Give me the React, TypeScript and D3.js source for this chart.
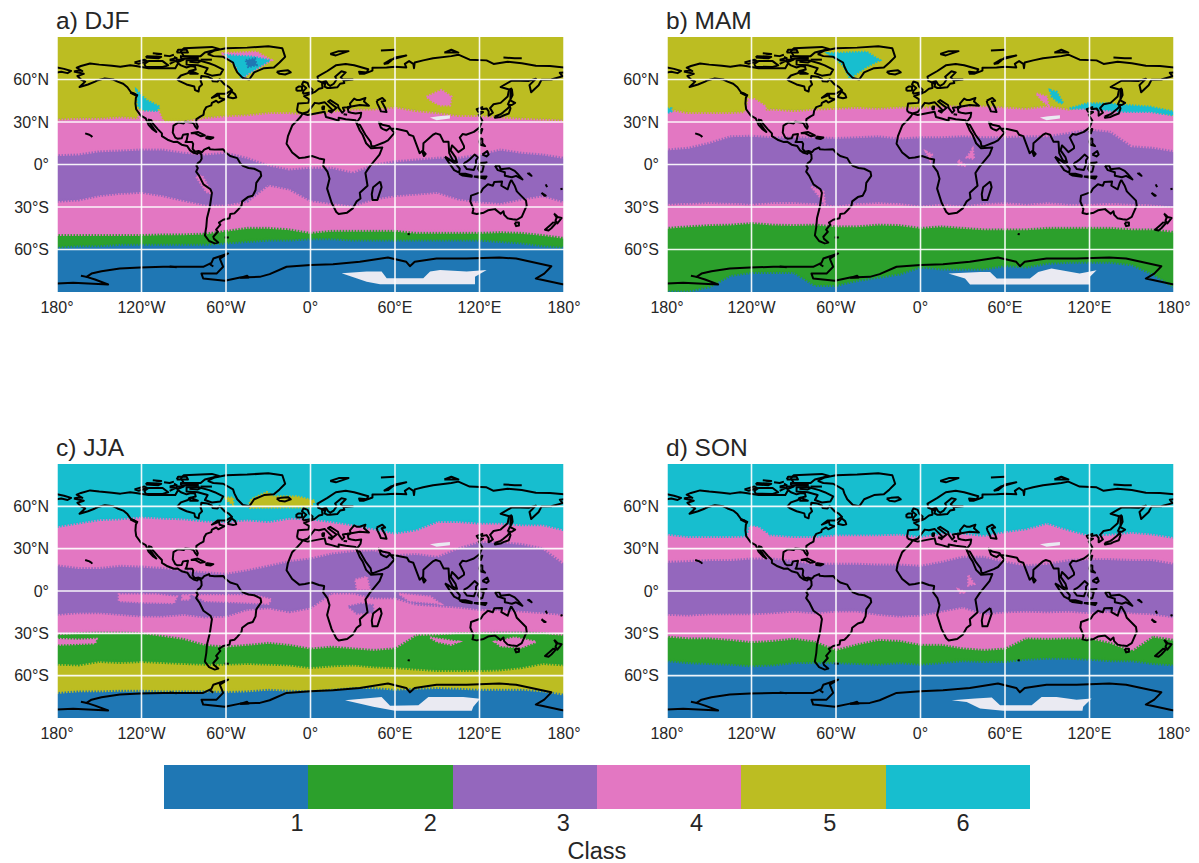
import React from 'react';
import * as d3 from 'd3';

type Pt = number[];

const classColors = ['#1f77b4', '#2ca02c', '#9467bd', '#e377c2', '#bcbd22', '#17becf'];
const classes = [1, 2, 3, 4, 5, 6];
const lonTicks = [-180, -120, -60, 0, 60, 120, 180];
const latTicks = [60, 30, 0, -30, -60];

const lons = [-180, -165, -150, -135, -120, -105, -90, -75, -60, -45, -30, -15, 0, 15, 30, 45, 60, 75, 90, 105, 120, 135, 150, 165, 180];

// class stacks, south to north, and latitude of each edge between them
const djfClasses = [1, 2, 4, 3, 4, 5];
const djfEdges = [
  [-58, -57, -57, -56, -56, -56, -56, -56, -55, -54, -53, -53, -52, -52, -53, -53, -53, -53, -53, -53, -53, -54, -55, -57, -58],
  [-49, -49, -49, -49, -49, -48.5, -48.5, -48, -46, -44, -44, -45, -47.5, -46, -46, -46, -46, -47.5, -47.5, -47.5, -47.5, -47, -47.5, -49, -51],
  [-25.6, -24.7, -21.6, -20, -19.3, -21.6, -25, -28, -28, -25.6, -14, -17, -25, -27, -28.7, -24, -21.6, -20.5, -19.3, -24, -26, -27, -24, -21.6, -26],
  [7.3, 7.8, 10, 10.6, 11.3, 11.3, 9, 7.8, 9, 5.4, 0.2, -2.8, -1.6, -1.6, -5, 0.7, 3, 4.2, 5.4, 5.4, 7.8, 11.3, 9, 7.8, 5.4],
  [32.5, 33, 33, 34, 33, 31, 31, 33.6, 34.8, 35.5, 37, 37, 36, 38, 39.5, 39.5, 41, 38.4, 37, 35, 35, 34, 33, 32.5, 31.8],
];
const mamClasses = [1, 2, 4, 3, 4, 5];
const mamEdges = [
  [-89, -89, -86, -78, -75.8, -75.8, -75.8, -85, -85, -81.6, -79.3, -77, -72, -73.4, -73.4, -73.4, -71, -72, -69.4, -68.7, -68.7, -68.7, -70.4, -77, -86],
  [-44, -42.8, -42, -41.6, -40.5, -41.6, -42, -41.6, -42.8, -42.8, -41.6, -42, -44, -42.8, -44, -45, -45, -45, -44, -44, -44, -44, -45, -45, -46.8],
  [-27.5, -27, -26.4, -26.8, -27.5, -26.4, -26.4, -27, -28.7, -27, -26.4, -27, -28.7, -27.5, -28.7, -27, -26.4, -27.5, -26.4, -27.5, -27.5, -27, -27.5, -28, -29.4],
  [11.3, 12.5, 16, 20.7, 21, 20, 20, 20, 19.5, 20, 20.7, 19, 20, 20, 20.7, 20, 20, 20.7, 20.7, 23, 25.4, 23.8, 13.6, 12.5, 10],
  [39.5, 37, 37, 37, 38, 39.5, 38.4, 39.5, 40, 40.7, 40, 41, 40.7, 41.9, 41.9, 41.9, 41, 40, 41.9, 39.5, 41.9, 41.9, 39.5, 38.4, 35.5],
];
const jjaClasses = [1, 5, 2, 4, 3, 4, 6];
const jjaEdges = [
  [-71.5, -70.4, -70.4, -69.9, -69.9, -70.4, -70.4, -70.4, -70.8, -70.4, -69.2, -69.9, -70.4, -69.2, -68, -68, -69.2, -68.5, -68, -68.5, -69.2, -69.2, -69.2, -70.4, -72.7],
  [-51.5, -52, -49.6, -50.3, -49.6, -50.3, -51, -51.5, -51.5, -51, -51.5, -52, -53.9, -52.7, -52, -53.4, -53.9, -55, -56, -56, -56, -55.5, -53.9, -51, -52],
  [-30, -29, -28.7, -28.7, -29, -31, -33.2, -37.4, -38.6, -37.4, -36, -37.4, -40, -38.6, -39.8, -41, -39.8, -30.4, -30, -29, -29, -28.7, -28.7, -29, -30.4],
  [-16.2, -15, -15, -16.2, -17.4, -17.4, -16.2, -18, -17.4, -12.7, -11.5, -14.4, -11.5, -1, -1, -4.5, -4.5, -9, -10, -11, -12.7, -12.7, -13.9, -15, -16.2],
  [19, 17, 17, 18.6, 18, 17, 15.5, 14, 13, 15.5, 18.6, 21.9, 23.8, 27.3, 29, 29.6, 26, 27, 25, 31, 35.5, 35.5, 34, 31, 20],
  [46, 48.5, 51, 51.5, 53, 52, 51.5, 50, 49.6, 50.8, 49.6, 52, 51.5, 49.6, 47.3, 44.5, 41.4, 43.8, 49.6, 49.6, 48.5, 48.5, 47.3, 47.3, 43.8],
];
const sonClasses = [1, 2, 4, 3, 4, 6];
const sonEdges = [
  [-49, -50.4, -51, -51.5, -52.7, -52, -50.4, -50.4, -50.4, -51, -51.5, -50.4, -51.5, -50.4, -49, -49.6, -49.6, -48, -47.3, -47.3, -48, -49, -49, -51, -52],
  [-31.5, -32.7, -32.7, -33.9, -35.5, -34.6, -33, -35, -41, -37, -33.9, -34.6, -37.4, -37.4, -39.8, -41, -40, -32.7, -33.2, -32.7, -32.7, -36, -41.6, -31.5, -33.9],
  [-16.2, -16.7, -15.8, -15.8, -15.8, -15, -13.9, -15, -13.9, -13.9, -16.2, -17.4, -16.7, -13.9, -11, -15.8, -14.4, -13.9, -14.4, -13.9, -15, -13.9, -15, -15.8, -18],
  [21.4, 21.9, 22.6, 22.6, 23.8, 23.8, 21.9, 20, 20, 20, 19.5, 19.5, 18.6, 21.4, 25, 25, 21.4, 19, 20, 22.6, 23.3, 23.3, 22.6, 22.6, 20],
  [40.7, 39, 39, 39, 39.5, 40.2, 39, 39, 40.2, 40.2, 40.2, 40.7, 39, 41.4, 41.4, 39.8, 42.6, 44.5, 48.5, 43.8, 39.8, 40.7, 42, 40.7, 38.4],
];

// isolated class patches: [class, outline]
const djfPatches: [number, Pt[]][] = [
  [4, [[-63.2, 78.4], [-38.3, 79.5], [-27.7, 73.6], [-36, 68.9], [-44.3, 64.2], [-47.8, 60.7], [-52.5, 68.9], [-59.6, 76]]],
  [6, [[-59.6, 77.2], [-40.7, 76], [-28.9, 73.6], [-38.3, 67.8], [-44.3, 64.2], [-49, 60.7], [-52.5, 68.9]]],
  [1, [[-45.9, 73.6], [-39.5, 74.8], [-38.3, 70.1], [-44.3, 68.9]]],
  [4, [[-122, 31], [-122, 38], [-108, 38], [-105, 31]]],
  [6, [[-123.6, 52.5], [-116.5, 45.4], [-107, 40.7], [-109.4, 37.9], [-118.8, 38.4], [-122.4, 40.7]]],
  [4, [[82.4, 47.8], [93, 52.5], [100, 47.8], [99, 41.9], [92, 41.9], [86, 44.9]]],
  [4, [[-81, -8.7], [-74, -19.3], [-70, -20.5], [-77, -8]]],
];
const mamPatches: [number, Pt[]][] = [
  [4, [[-124, 37], [-122, 46], [-118, 46], [-110, 41], [-110, 37]]],
  [6, [[-65.6, 78.4], [-38.3, 79.5], [-28.9, 73.6], [-38.3, 69], [-45.4, 64.2], [-50, 60.7], [-54.9, 70], [-62, 76]]],
  [6, [[106, 39.5], [118, 43], [132, 43], [146, 41.9], [163, 40.7], [180, 37.2], [180, 34.8], [163, 37.2], [146, 37.2], [132, 38.4], [118, 39.5]]],
  [6, [[92, 52.5], [96.6, 51.3], [101.3, 43], [98, 44], [93.3, 47.8]]],
  [4, [[82.4, 50], [89.5, 47.8], [90.7, 41.9], [86, 45.4]]],
  [6, [[-180, 39.5], [-177, 39.5], [-177, 37.5], [-180, 36.5]]],
  [4, [[33, 5], [37, 11], [38, 4]]],
  [4, [[27, 3], [32, -1], [27, 0]]],
  [4, [[4, 9], [8, 7], [7, 3]]],
  [4, [[-77.4, -15.8], [-69, -19.3], [-67.7, -28.7], [-71.5, -22.8]]],
];
const jjaPatches: [number, Pt[]][] = [
  [5, [[-44, 60], [-42, 65], [-31, 70], [-26, 67], [-10, 67], [3, 64], [0, 59.5], [-43, 59]]],
  [5, [[-61, 66], [-55, 66], [-55, 61]]],
  [4, [[-180, -34], [-165, -34.5], [-152, -34], [-153, -37], [-180, -38]]],
  [4, [[131, -36], [145, -33], [160, -36], [150, -40], [135, -39]]],
  [4, [[85, -33], [105, -36], [100, -38], [90, -36]]],
  [4, [[-136, -2.5], [-110, -2.5], [-95, -4], [-97, -8.5], [-120, -8], [-136, -7]]],
  [4, [[-91, -3], [-86, -3], [-86, -6], [-91, -6]]],
  [4, [[-82, -3], [-40, -3], [-28, -6], [-30, -9], [-50, -8], [-75, -7]]],
  [3, [[27, -11], [36, -9], [44, -10], [45, -15], [33, -16]]],
  [4, [[63, -2], [85, -4], [92, -9], [70, -7]]],
  [4, [[32, 8], [40, 10], [42, 1], [33, 1]]],
];
const sonPatches: [number, Pt[]][] = [
  [4, [[-123, 38], [-121, 46], [-115, 45], [-108, 40], [-108, 38]]],
  [4, [[34, 11], [38, 5], [34, 4]]],
  [4, [[27, 1], [32, -1], [28, -1]]],
];

// missing data (no class) over the Antarctic plateau and Tibet
const tibet = [[84.8, 33.2], [90.7, 34.1], [99, 34.8], [99, 32.5], [89.5, 31.3]];
const djfPlateau = [[22.1, -76.8], [39.9, -75.6], [50.5, -75.6], [54.1, -80.3], [80.1, -80.3], [84.9, -75.6], [92, -74.5], [110.9, -75.6], [125.1, -74.5], [116.8, -79.2], [116.8, -84.5], [49.4, -84.5], [39.9, -82.7]];
const mamPlateau = [[19.8, -76.9], [42.3, -75.8], [49.4, -75.8], [54.2, -80.5], [77.7, -80.5], [83.6, -75.8], [93, -73.4], [113, -77], [125, -74.6], [120.3, -79.3], [120.3, -84.7], [35.2, -84.7], [31.6, -80.5]];
const jjaPlateau = [[24.5, -77.4], [50.5, -75.1], [56.5, -81.4], [76.6, -80.9], [83.7, -75.1], [108.5, -75.1], [120.4, -76.3], [115.6, -82.1], [114.5, -84.9], [60, -84.9], [44.6, -82.1]];
const sonPlateau = [[22.2, -77.4], [38.8, -76.2], [50.6, -75.5], [56.5, -80.9], [78.9, -80.9], [86, -75.1], [96.6, -75.1], [110.8, -77], [121.5, -76.2], [115.5, -82.1], [115, -84.9], [58.8, -84.9], [42.3, -83.3], [32.8, -78.6]];

// coastlines
const northAmerica = [[-168, 65.6], [-164, 66.5], [-162, 66], [-166, 68.3], [-163, 69.5], [-156.5, 71.3], [-150, 70.5], [-141, 69.7], [-135, 69], [-128, 70], [-124, 69.5], [-115, 68], [-108, 68], [-101, 68], [-96, 68], [-94, 71.5], [-92, 70], [-88, 68.5], [-85, 69.5], [-82, 69], [-81.5, 67], [-86, 66], [-87, 64.5], [-92, 62.8], [-94.5, 60], [-93, 58.8], [-88, 56.5], [-82.5, 55], [-82, 52.5], [-79.5, 51.5], [-79, 54.5], [-77, 56.5], [-78, 59], [-77.5, 62.5], [-73, 62], [-70, 60.5], [-69.5, 58.8], [-66, 58.5], [-64.5, 60.3], [-61, 56.5], [-58, 54.8], [-55.7, 52.5], [-60, 50], [-66, 50], [-70, 47], [-65, 49], [-64.5, 47], [-61, 46], [-65.5, 43.7], [-67, 45], [-70, 43.5], [-70.5, 41.7], [-74, 40.5], [-75.5, 38], [-76, 35], [-78, 34], [-81, 32], [-81.2, 29.5], [-80, 26.8], [-80.5, 25.2], [-82, 27], [-83, 29], [-85, 29.7], [-89, 30.2], [-90, 29], [-94, 29.6], [-97.3, 27.5], [-97.8, 22.5], [-96, 19], [-94.5, 18.2], [-91.5, 18.5], [-90.5, 21], [-87, 21.5], [-88, 17], [-88.7, 15.8], [-84, 15.8], [-83.3, 14.5], [-83.7, 11], [-82, 9], [-79.5, 9.5], [-77, 8.7], [-75.5, 10.5], [-72, 12], [-71.5, 10.8], [-68, 10.5], [-62, 10.7], [-60, 8.3], [-57, 6], [-52, 4.5], [-50, 1], [-48, -1], [-44, -2.5], [-40, -3], [-35.5, -5.2], [-35, -8], [-38.5, -13], [-39, -18], [-41, -22], [-44.5, -23], [-48.5, -26], [-49, -29], [-52, -32.5], [-54, -34.5], [-57, -35], [-57.5, -38], [-62, -39], [-65, -41], [-64, -42.5], [-67, -46], [-65.8, -47.5], [-69, -51], [-68.5, -52.5], [-65.5, -55], [-68, -55.7], [-72, -54], [-75, -50], [-74, -44], [-73.5, -38], [-71.5, -30], [-70, -20], [-71, -17.5], [-76, -14], [-79, -8], [-81.2, -5], [-80, -2.5], [-81, -1], [-80, 1], [-78.5, 2], [-77.3, 4], [-77.5, 7], [-79, 8.8], [-80.5, 7.5], [-83, 8.2], [-85.5, 10], [-87.5, 13], [-91.5, 14], [-94.5, 16], [-97, 15.8], [-101.5, 17.5], [-105.5, 20], [-105.5, 22], [-108.5, 25], [-112, 29], [-113, 31.2], [-114.8, 31.7], [-114.5, 30], [-111, 25], [-109.5, 23], [-112, 24.7], [-115, 28], [-117, 32.5], [-120.5, 34.5], [-123.8, 39], [-124.3, 43], [-124, 47], [-123, 49], [-127.5, 51], [-130, 54.5], [-133, 57], [-137, 58.5], [-140, 60], [-146, 60.8], [-151, 59.5], [-153, 58.5], [-158, 56.5], [-164, 54.7], [-160, 58.5], [-163, 60], [-165.5, 62.5], [-161, 64], [-168, 65.6]];
const eurasia = [[-9, 37], [-9.5, 38.7], [-8.8, 43], [-1.5, 43.5], [-1, 46], [-4.5, 48.3], [1.5, 50.5], [3.5, 51.5], [6, 53.5], [8.5, 54], [8.2, 57], [10.5, 57.5], [10, 55], [12, 54], [14, 54], [19, 54.5], [21, 57], [24, 57.5], [23.5, 59.3], [30, 60], [23, 60], [21.5, 61.5], [25, 65], [22, 65.8], [17.5, 62], [18.5, 60], [16.5, 57], [14, 55.5], [12.5, 56.5], [11, 59], [8, 58], [5.5, 59], [5, 62], [12, 66], [18, 70], [25, 71], [31, 70], [41, 67.2], [40, 65], [34.5, 65.5], [35, 64], [38, 64], [44, 66.3], [44, 68.3], [54, 68.5], [60, 69], [68, 68.5], [67, 71], [70, 73], [73, 71], [73.5, 68], [74, 72], [80, 73.5], [87, 75], [100, 76.5], [105, 77.5], [113, 74], [125, 73.5], [130, 71], [140, 72.5], [150, 71.5], [160, 69.7], [170, 69.5], [180, 68.5]];
const eurasiaEast = [[180, 65], [177, 64.7], [179, 62.3], [171, 60], [164, 59.8], [162, 56], [156.7, 51], [155.5, 56], [160, 60.5], [155, 59], [143, 59.3], [135, 54.7], [141, 53], [140, 48], [135, 43.5], [130, 42.5], [127.5, 39.8], [129.5, 36.5], [126.5, 34.5], [126.5, 37.5], [125, 39.6], [121.5, 39], [122, 40.5], [118, 39], [119, 37.3], [122.5, 37], [119.5, 35], [122, 31], [120, 26], [116, 23], [110.5, 21], [108, 21.5], [106, 19], [109, 13], [109, 11.5], [105, 8.7], [103, 11], [100.5, 13.5], [99.5, 10], [103, 5], [104, 1.5], [101, 3], [98.5, 8], [98, 16], [94.5, 16], [92, 21], [89, 22], [87, 21], [80.2, 15], [80, 10], [77.5, 8], [73, 20], [70, 21], [68.5, 23.5], [61.5, 25], [57, 25.5], [56, 27], [51, 28], [48.5, 30], [50, 26], [51.5, 25], [54, 24], [56.5, 26], [58.5, 23.5], [59.8, 22.5], [55, 17], [52, 15.5], [45, 12.8], [43.3, 12.8], [42.7, 16], [39, 21], [35, 28], [33.5, 28], [32.5, 30], [34, 31.3], [35.5, 33.5], [36, 36.5], [32, 36], [29, 36.5], [27, 37], [26.5, 39.5], [29, 41], [35, 42], [41.5, 41.5], [38, 44.5], [39, 47], [35, 45.5], [33, 45.5], [31, 46.5], [28, 43], [28.5, 41], [26, 40.5], [23, 40], [24, 38], [22.5, 36.5], [20, 40], [19.5, 42], [14, 45.5], [12.5, 44.5], [18.5, 40], [16, 38], [10, 44], [6, 43], [3, 43.5], [0, 39.5], [-2, 37], [-5.5, 36], [-9, 37]];
const chukotka = [[-180, 68.5], [-175, 67.5], [-170, 66], [-172.5, 64.5], [-177, 65.5], [-180, 65]];
const africa = [[-5.5, 36], [-2, 35], [10, 37.3], [11, 33.5], [15, 32.5], [20, 31], [20, 33], [25, 32], [32, 31.2], [32.5, 29.8], [35, 24], [37, 21], [39.5, 15], [43, 11.5], [51, 12], [49, 7], [42, -1.5], [39, -6], [40.5, -15], [35, -20], [35.5, -24], [32.8, -26], [30, -31], [26, -34], [20, -35], [18.3, -33.5], [15, -27], [11.8, -17], [13.5, -10], [12, -5], [9, -1], [9.7, 3.5], [6, 4.3], [1, 6], [-4, 5], [-8, 4.5], [-13, 8.5], [-17, 14.7], [-16, 20], [-13, 27.5], [-9.5, 31], [-7, 33.7], [-5.5, 36]];
const greenland = [[-73, 78], [-68, 80.5], [-60, 82], [-45, 82.5], [-30, 83.5], [-20, 82], [-18, 76], [-22, 72], [-26, 68.5], [-33, 68], [-40, 65], [-43.5, 60], [-48, 61], [-52, 65], [-54, 69], [-55, 72], [-62, 76], [-69, 76.5], [-73, 78]];
const australia = [[142.5, -10.8], [145, -15], [146.5, -19], [150, -22.5], [153, -25.5], [153.5, -29], [150, -37], [146.5, -39], [143.5, -38.7], [140, -38], [137.5, -35.5], [137, -33], [135, -34.8], [131, -31.5], [126, -32.3], [123, -34], [118, -35], [115, -34.3], [115.7, -31.5], [113.5, -26], [114, -22], [121, -19.5], [122.5, -17], [126, -14], [129.5, -15], [130.5, -12.3], [136, -12], [135.5, -15], [140, -17.5], [141.5, -13], [142.5, -10.8]];
const antarctica = [[-180, -84], [-168.5, -83.5], [-143.7, -84.7], [-153, -81.2], [-159, -79.3], [-155.5, -77], [-148.4, -75.3], [-135.4, -73.4], [-121, -72.7], [-104.6, -72.2], [-76.2, -72.2], [-70.3, -69.4], [-69, -66.4], [-58.5, -62.8], [-64.4, -66.4], [-62, -72.2], [-66.7, -77], [-77.4, -77], [-76.2, -80.5], [-60.8, -82], [-50, -79.8], [-36, -79.3], [-29, -77.4], [-17, -72.2], [0, -71], [16, -70.4], [35, -68.7], [55, -65.6], [68, -68.7], [70.6, -71.8], [74, -68.7], [89.5, -66.4], [110.8, -66.4], [134, -65.6], [146, -66.4], [171, -71.8], [166, -77], [160, -80.5], [179, -84.5], [180, -84.5]];
const islands = [
  [[49.5, -12], [50.5, -16], [47.5, -25], [44, -25], [43.5, -21], [44.5, -16], [49.5, -12]],
  [[145, -41], [148, -41], [148, -43], [146, -43.5], [145, -41]],
  [[173, -34.5], [175.5, -37], [178.3, -37.7], [177, -39.5], [175.3, -41.6], [174, -39.5], [174.8, -37.5], [173, -34.5]],
  [[172.7, -40.6], [174.2, -41.5], [171, -45], [169, -46.6], [166.5, -46], [170, -43], [172.7, -40.6]],
  [[131, -0.8], [134, -0.8], [135, -3.3], [141, -2.6], [145, -4.5], [147, -6.5], [150.5, -10.5], [146, -8], [143, -9], [138, -8], [138, -5.5], [133, -4], [131, -0.8]],
  [[109, 1], [111, 2], [113, 3.5], [116.5, 7], [119, 5], [117.5, 3], [117.5, 0], [116, -3.8], [111, -3.2], [109, -0.5], [109, 1]],
  [[95.5, 5.5], [98, 4], [103.5, 0], [106, -3], [105.5, -5.8], [102, -4], [98.5, 1], [95.5, 5.5]],
  [[105.5, -6.5], [110, -6.5], [114.5, -7.7], [114.5, -8.7], [108, -7.8], [105.5, -6.5]],
  [[120, 1], [125, 1.5], [121, 0], [123, -1], [122, -5], [120.5, -5.5], [119, -3], [120, 1]],
  [[116, -8.5], [125, -8.5], [124, -10], [116, -8.5]],
  [[120.5, 18.5], [122, 18], [122, 15], [124, 13], [120.5, 14], [120, 16], [120.5, 18.5]],
  [[122, 7], [125.5, 9.5], [126.5, 7], [125, 5.7], [122, 7]],
  [[121, 25], [122, 25], [121, 22], [120, 23], [121, 25]],
  [[130.8, 34], [135, 35.5], [137, 37], [140, 39.5], [141.5, 41.3], [142, 39.5], [140.8, 36], [137, 34.6], [135, 33.6], [131, 33], [130.8, 34]],
  [[140, 42], [141.5, 45.4], [145.3, 43.5], [143, 42], [140, 42]],
  [[142, 54], [143, 53], [143.5, 49], [142, 46], [142, 50], [142, 54]],
  [[80, 9.5], [81.8, 7.5], [80.5, 6], [79.8, 8], [80, 9.5]],
  [[155, -6], [157, -8], [154, -6]],
  [[164, -20], [167, -22], [166, -22], [164, -20]],
  [[167, -14], [168, -16]],
  [[177.5, -17.5], [179, -17]],
  [[-160, 22], [-157, 21], [-155.5, 20], [-155, 19.3]],
  [[-85, 22], [-80, 23], [-75, 20.5], [-78, 20], [-82, 22], [-85, 22]],
  [[-74, 19.8], [-69, 19], [-71, 18], [-74, 18.5], [-74, 19.8]],
  [[-61, -51.5], [-58, -51.5]],
  [[69, -49], [70.5, -49.3]],
  [[-24, 65.5], [-21, 66], [-16, 66.5], [-14, 65], [-18, 63.5], [-22, 64], [-24, 65.5]],
  [[-5.5, 50], [1, 51], [1.5, 52.8], [-1, 55], [-2, 57.5], [-5, 58.6], [-6, 56.5], [-3, 54], [-5, 52], [-5.5, 50]],
  [[-10, 52], [-6, 52.2], [-6, 55], [-8.5, 55], [-10, 54], [-10, 52]],
  [[12.5, 38], [15.5, 38], [15, 36.7], [12.5, 38]],
  [[8.3, 41], [9.7, 41], [9.5, 39], [8.5, 39], [8.3, 41]],
  [[23.5, 35.5], [26, 35.2]],
  [[14, 78], [20, 80], [27, 80], [18, 77], [14, 78]],
  [[52, 71], [57, 74], [68, 77], [60, 75.5], [55, 71.5], [52, 71]],
  [[95, 79], [105, 79], [100, 81], [95, 79]],
  [[137, 75.5], [145, 75], [150, 75]],
  [[50, 80.5], [60, 81]],
  [[47, 45], [51, 47], [53, 45], [50.5, 44.5], [53, 40], [54, 37], [50, 37.5], [49, 40], [47.5, 43], [47, 45]],
  [[-80, 73.7], [-72, 71.5], [-68, 70], [-62, 67], [-64, 63.5], [-70, 62.7], [-75, 64.5], [-73, 68], [-80, 70], [-88, 70.5], [-88, 73.5], [-80, 73.7]],
  [[-90, 76.5], [-78, 76.5], [-75, 79], [-65, 81.5], [-70, 83], [-90, 82], [-92, 80], [-90, 76.5]],
  [[-117, 69], [-105, 68.8], [-101, 70], [-105, 73], [-115, 73], [-118, 71], [-117, 69]],
  [[-125, 72], [-118, 74], [-116, 73], [-122, 71], [-125, 72]],
  [[-117, 75.5], [-108, 75], [-106, 76], [-116, 76.5], [-117, 75.5]],
  [[-92, 74.7], [-80, 74.7], [-80, 75.5], [-92, 76.5], [-92, 74.7]],
  [[-95, 72], [-90, 74], [-95, 74], [-95, 72]],
  [[-95, 79], [-87, 79], [-88, 81], [-94, 81], [-95, 79]],
  [[-86, 64], [-80, 64], [-85, 66], [-86, 64]],
  [[-59, 47.7], [-55, 46.8], [-52.7, 47.3], [-53.5, 49.5], [-56, 51.5], [-59, 47.7]],
  [[-128, 50.7], [-125, 50], [-123.5, 48.5], [-128, 50.7]],
  [[-50, -80], [-45, -78.5], [-44, -79.8], [-50, -80]],
  [[-163, -78.5], [-158, -79.5]],
  [[-72, -70], [-69, -72]],
  [[-100, -72], [-95, -72.5]],
  [[-104, 77], [-100, 76.5], [-97, 77.5]],
  [[-100, 74], [-95, 75], [-97, 76]],
  [[-110, 77.8], [-106, 78], [-112, 78.5]],
  [[-86, 72.5], [-80, 72], [-78, 73]],
  [[-100, 71], [-96, 73], [-100, 73.5]],
  [[-78, 74], [-70, 74]],
];
const coasts = [northAmerica, eurasia, eurasiaEast, chukotka, africa, greenland, australia, antarctica, ...islands];

const panels = [
  { id: 'a', title: 'a) DJF', left: 57, top: 37, bottom: 292, stack: djfClasses, edges: djfEdges, patches: djfPatches, plateau: djfPlateau },
  { id: 'b', title: 'b) MAM', left: 667, top: 37, bottom: 292, stack: mamClasses, edges: mamEdges, patches: mamPatches, plateau: mamPlateau },
  { id: 'c', title: 'c) JJA', left: 57, top: 464, bottom: 718, stack: jjaClasses, edges: jjaEdges, patches: jjaPatches, plateau: jjaPlateau },
  { id: 'd', title: 'd) SON', left: 667, top: 464, bottom: 718, stack: sonClasses, edges: sonEdges, patches: sonPatches, plateau: sonPlateau },
];

const ink = '#262626';
const font = '"Liberation Sans", Arial, sans-serif';
const panelWidth = 507;

const lonLabel = (d: number) => (Math.abs(d) === 180 || d === 0 ? `${Math.abs(d)}°` : `${Math.abs(d)}°${d < 0 ? 'W' : 'E'}`);
const latLabel = (d: number) => (d === 0 ? '0°' : `${Math.abs(d)}°${d < 0 ? 'S' : 'N'}`);

const Panel = ({ p }: { p: (typeof panels)[number] }) => {
  const x = d3.scaleLinear().domain([-180, 180]).range([p.left, p.left + panelWidth]);
  const y = d3.scaleLinear().domain([-90, 90]).range([p.bottom, p.top]);
  const coastLine = d3.line<Pt>().x(d => x(d[0])).y(d => y(d[1]));
  const edgeLine = d3.line<number>().x((_, i) => x(lons[i])).y(d => y(d));
  const band = (lo: number[] | null, hi: number[] | null) =>
    d3.area<number>()
      .x(d => x(d))
      .y0((_, i) => y(lo ? lo[i] : -90))
      .y1((_, i) => y(hi ? hi[i] : 90))(lons) as string;
  const clip = `clip-${p.id}`;

  return (
    <g>
      <clipPath id={clip}>
        <rect x={p.left} y={p.top} width={panelWidth} height={p.bottom - p.top} />
      </clipPath>
      <text x={p.left - 1} y={p.top - 8} fontSize={24.5} fill={ink}>{p.title}</text>
      <g clipPath={`url(#${clip})`}>
        <rect x={p.left} y={p.top} width={panelWidth} height={p.bottom - p.top} fill={classColors[0]} />
        {p.stack.map((c, i) => (
          <path key={i} d={band(i > 0 ? p.edges[i - 1] : null, i < p.edges.length ? p.edges[i] : null)} fill={classColors[c - 1]} stroke={classColors[c - 1]} strokeWidth={0.4} />
        ))}
        {/* saw-tooth of the model grid along each class edge */}
        {p.edges.map((e, i) => (
          <path key={i} d={edgeLine(e) as string} fill="none" stroke={classColors[p.stack[i + 1] - 1]} strokeWidth={4} strokeDasharray="1.5 1.5" />
        ))}
        {p.patches.map(([c, pts], i) => (
          <path key={i} d={coastLine(pts) + 'Z'} fill={classColors[c - 1]} stroke={classColors[c - 1]} strokeWidth={2.5} strokeDasharray="1.5 1.5" />
        ))}
        <path d={coastLine(p.plateau) + 'Z'} fill="#eaeaf2" />
        <path d={coastLine(tibet) + 'Z'} fill="#eaeaf2" />
        {coasts.map((c, i) => (
          <path key={i} d={coastLine(c) as string} fill="none" stroke="#000" strokeWidth={2} strokeLinejoin="round" />
        ))}
        {lonTicks.map(t => (
          <line key={t} x1={x(t)} x2={x(t)} y1={p.top} y2={p.bottom} stroke="#fff" strokeWidth={1.6} opacity={0.92} />
        ))}
        {latTicks.map(t => (
          <line key={t} x1={p.left} x2={p.left + panelWidth} y1={y(t)} y2={y(t)} stroke="#fff" strokeWidth={1.6} opacity={0.92} />
        ))}
      </g>
      {lonTicks.map(t => (
        <text key={t} x={x(t)} y={p.bottom + 21} fontSize={16} fill={ink} textAnchor="middle">{lonLabel(t)}</text>
      ))}
      {latTicks.map(t => (
        <text key={t} x={p.left - 8} y={y(t) + 5.5} fontSize={16} fill={ink} textAnchor="end">{latLabel(t)}</text>
      ))}
    </g>
  );
};

export default function App() {
  const cbar = d3.scaleBand<number>().domain(classes).range([164, 1030]);
  const cbarTick = d3.scaleLinear().domain([1, 6]).range([297, 963]);
  return (
    <svg width={1199} height={863} style={{ position: 'absolute', left: 0, top: 0, display: 'block' }} fontFamily={font}>
      {panels.map(p => <Panel key={p.id} p={p} />)}
      {classes.map(c => (
        <rect key={c} x={cbar(c)} y={765} width={cbar.bandwidth()} height={44} fill={classColors[c - 1]} shapeRendering="crispEdges" />
      ))}
      {classes.map(c => (
        <text key={c} x={cbarTick(c)} y={831} fontSize={23.5} fill={ink} textAnchor="middle">{c}</text>
      ))}
      <text x={597} y={859} fontSize={23.5} fill={ink} textAnchor="middle">Class</text>
    </svg>
  );
}
